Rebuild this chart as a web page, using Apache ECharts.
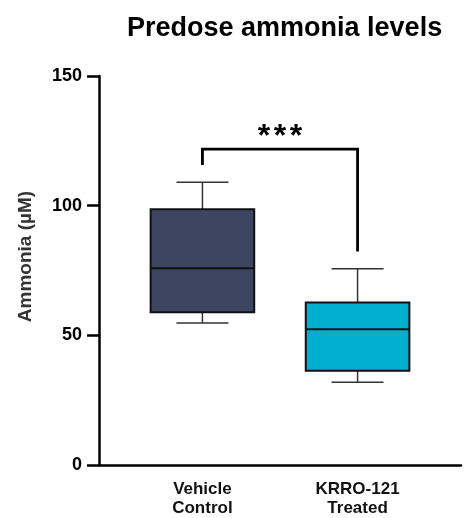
<!DOCTYPE html>
<html>
<head>
<meta charset="utf-8">
<script src="https://cdn.jsdelivr.net/npm/echarts@6/dist/echarts.min.js"></script>
<style>html,body{margin:0;padding:0;background:#fff}#chart{width:464px;height:518px}</style>
</head>
<body>
<div id="chart"></div>
<script>
// ---- data ----
const groups = ['Vehicle\nControl', 'KRRO-121\nTreated'];
const minVals = [54.8, 31.9];
const q1Vals = [58.9, 36.3];
const medianVals = [75.9, 52.3];
const q3Vals = [98.6, 62.7];
const maxVals = [109.0, 75.7];
const yTicks = [0, 50, 100, 150];
const sigLabel = '***';
const bracketLeftEnd = 115.7;
const bracketTop = 121.8;
const bracketRightEnd = 82.3;

// ---- layout helpers ----
const groupSlots = [2, 5];           // category slots on the x axis
const slotCount = 8;
const categories = [];
for (let i = 0; i < slotCount; i++) {
  const g = groupSlots.indexOf(i);
  categories.push(g >= 0 ? groups[g] : '');
}
const groupColors = ['#3c4660', '#00afcd'];
const FONT = '"Liberation Sans", Arial, sans-serif';

const boxData = groups.map((g, i) => [groupSlots[i], minVals[i], q1Vals[i], medianVals[i], q3Vals[i], maxVals[i], i]);

const chart = echarts.init(document.getElementById('chart'));
chart.setOption({
  animation: false,
  backgroundColor: '#ffffff',
  title: {
    text: 'Predose ammonia levels',
    left: 122, top: 10,
    textStyle: { fontFamily: FONT, fontWeight: 'bold', fontSize: 27, color: '#000' }
  },
  grid: { left: 99, right: -1.5, top: 76, bottom: 53 },
  xAxis: {
    type: 'category',
    data: categories,
    boundaryGap: false,
    axisLine: { show: true, lineStyle: { color: '#000', width: 2.5 } },
    axisTick: { show: false },
    splitLine: { show: false },
    axisLabel: {
      interval: 0, margin: 15,
      fontFamily: FONT, fontWeight: 'bold', fontSize: 17, color: '#111',
      lineHeight: 19, align: 'center'
    }
  },
  yAxis: {
    type: 'value', min: yTicks[0], max: yTicks[yTicks.length - 1], interval: yTicks[1] - yTicks[0],
    name: 'Ammonia (µM)', nameLocation: 'middle', nameGap: 64, nameRotate: 90,
    nameTextStyle: { fontFamily: FONT, fontWeight: 'bold', fontSize: 19, color: '#333', padding: [0, 0, 0, 28] },
    axisLine: { show: true, lineStyle: { color: '#000', width: 2.5 } },
    axisTick: { show: true, inside: false, length: 12, lineStyle: { color: '#000', width: 2.5 } },
    axisLabel: { margin: 17, fontFamily: FONT, fontWeight: 'bold', fontSize: 18, color: '#000' },
    splitLine: { show: false }
  },
  series: [
    {
      type: 'custom',
      data: boxData,
      encode: { x: 0, y: [1, 2, 3, 4, 5] },
      renderItem: function (params, api) {
        const x = api.value(0);
        const idx = api.value(6);
        const pMin = api.coord([x, api.value(1)]);
        const pQ1 = api.coord([x, api.value(2)]);
        const pMed = api.coord([x, api.value(3)]);
        const pQ3 = api.coord([x, api.value(4)]);
        const pMax = api.coord([x, api.value(5)]);
        const half = 51.8;
        const cap = 26;
        const cx = pMin[0];
        const wStyle = { stroke: '#333', lineWidth: 1.5 };
        return {
          type: 'group',
          children: [
            { type: 'line', shape: { x1: cx, y1: pMax[1], x2: cx, y2: pQ3[1] }, style: wStyle },
            { type: 'line', shape: { x1: cx - cap, y1: pMax[1], x2: cx + cap, y2: pMax[1] }, style: wStyle },
            { type: 'line', shape: { x1: cx, y1: pMin[1], x2: cx, y2: pQ1[1] }, style: wStyle },
            { type: 'line', shape: { x1: cx - cap, y1: pMin[1], x2: cx + cap, y2: pMin[1] }, style: wStyle },
            { type: 'rect', shape: { x: cx - half, y: pQ3[1], width: half * 2, height: pQ1[1] - pQ3[1] },
              style: { fill: groupColors[idx], stroke: '#111', lineWidth: 2 } },
            { type: 'line', shape: { x1: cx - half, y1: pMed[1], x2: cx + half, y2: pMed[1] }, style: { stroke: '#111', lineWidth: 2 } }
          ]
        };
      }
    },
    {
      type: 'custom',
      data: [[groupSlots[0], groupSlots[1], bracketLeftEnd, bracketTop, bracketRightEnd]],
      encode: { x: [0, 1], y: [2, 3, 4] },
      renderItem: function (params, api) {
        const a = api.value(0), b = api.value(1);
        const p1 = api.coord([a, api.value(2)]);
        const p2 = api.coord([a, api.value(3)]);
        const p3 = api.coord([b, api.value(3)]);
        const p4 = api.coord([b, api.value(4)]);
        const mid = (p2[0] + p3[0]) / 2;
        const children = [
          { type: 'polyline', shape: { points: [p1, p2, p3, p4] }, style: { stroke: '#000', lineWidth: 2.8, fill: null } }
        ];
        const chars = sigLabel.split('');
        const step = 16;
        chars.forEach((c, i) => {
          children.push({ type: 'text', style: { text: c, x: mid + (i - (chars.length - 1) / 2) * step, y: p2[1] - 12,
            align: 'center', verticalAlign: 'middle', font: 'bold 32px "Liberation Sans", Arial, sans-serif', fill: '#000' } });
        });
        return { type: 'group', children: children };
      }
    }
  ]
});
</script>
</body>
</html>
